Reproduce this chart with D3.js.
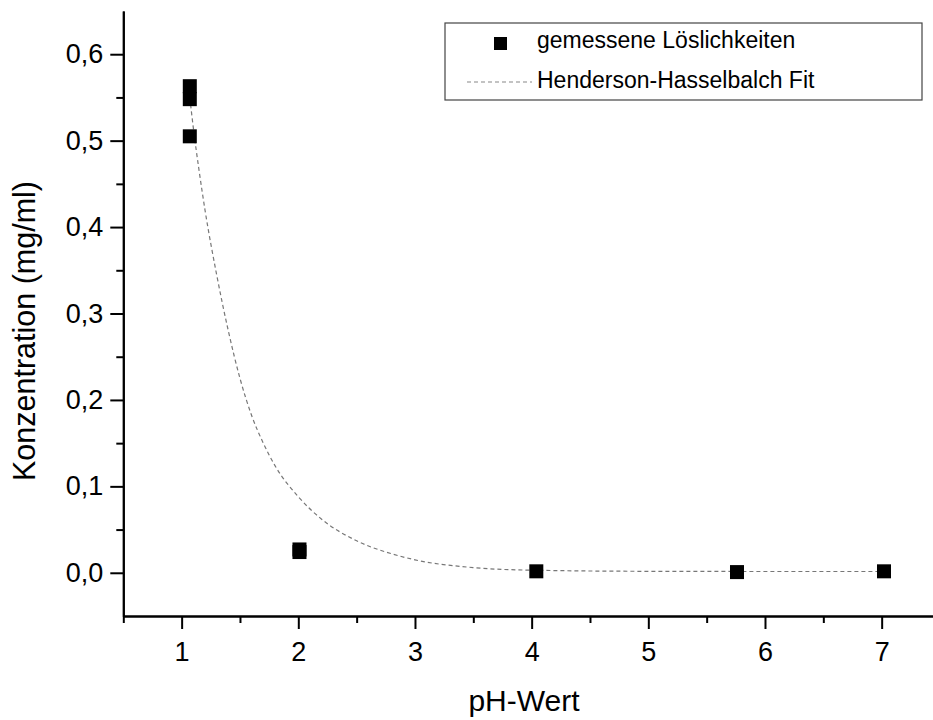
<!DOCTYPE html>
<html lang="en">
<head>
    <meta charset="UTF-8">
    <title>Löslichkeit vs. pH</title>
    <script src="https://d3js.org/d3.v7.min.js"></script>
    <style>
        body { margin: 0; background: #fff; }
        svg { display: block; font-family: "Liberation Sans", Arial, sans-serif; }
    </style>
</head>
<body>
    <div id="chart"></div>
    <script>
        // Measured solubility points
        const phValues = [1.07, 1.07, 1.07, 2.01, 2.01, 4.04, 5.76, 7.02];
        const concValues = [0.563, 0.548, 0.505, 0.027, 0.024, 0.0017, 0.0008, 0.0017];

        // Fit curve
        const fitPh = [1.07, 1.1, 1.15, 1.2, 1.3, 1.4, 1.5, 1.6, 1.7, 1.8, 2.0, 2.2, 2.5, 2.8, 3.0, 3.5, 4.0, 5.0, 6.0, 7.0];
        const fitConc = [0.55, 0.515, 0.465, 0.42, 0.345, 0.28, 0.225, 0.182, 0.15, 0.124, 0.088, 0.062, 0.037, 0.022, 0.015, 0.006, 0.003, 0.0017, 0.0015, 0.0015];

        const xMajor = [1, 2, 3, 4, 5, 6, 7];
        const xMinor = [0.5, 1.5, 2.5, 3.5, 4.5, 5.5, 6.5];
        const yMajor = [0, 0.1, 0.2, 0.3, 0.4, 0.5, 0.6];
        const yMinor = [0.05, 0.15, 0.25, 0.35, 0.45, 0.55];

        const legendLabels = ["gemessene Löslichkeiten", "Henderson-Hasselbalch Fit"];

        const width = 933;
        const height = 720;

        const svg = d3.select("#chart")
            .append("svg")
            .attr("width", width)
            .attr("height", height);

        const x = d3.scaleLinear().domain([0.5, 7.5]).range([123.3, 940]);
        const y = d3.scaleLinear().domain([-0.05, 0.65]).range([616, 11]);

        const fmt = d => d3.format(".1f")(d).replace(".", ",");

        // x axis
        svg.append("g")
            .attr("transform", `translate(0,${y(-0.05)})`)
            .call(d3.axisBottom(x).tickValues(xMajor).tickFormat(d3.format("d"))
                .tickSize(13).tickPadding(13).tickSizeOuter(0));
        svg.append("g")
            .attr("transform", `translate(0,${y(-0.05)})`)
            .call(d3.axisBottom(x).tickValues(xMinor).tickFormat("").tickSize(7).tickSizeOuter(0));

        // y axis
        svg.append("g")
            .attr("transform", `translate(${x(0.5)},0)`)
            .call(d3.axisLeft(y).tickValues(yMajor).tickFormat(fmt)
                .tickSize(13).tickPadding(7).tickSizeOuter(0));
        svg.append("g")
            .attr("transform", `translate(${x(0.5)},0)`)
            .call(d3.axisLeft(y).tickValues(yMinor).tickFormat("").tickSize(7).tickSizeOuter(0));

        svg.selectAll(".domain, .tick line")
            .attr("stroke", "#000")
            .attr("stroke-width", 2);
        svg.selectAll(".tick text")
            .attr("font-size", 27)
            .attr("font-family", "Liberation Sans, Arial, sans-serif")
            .attr("fill", "#000");

        // axis titles
        svg.append("text")
            .attr("transform", "translate(35,331) rotate(-90)")
            .attr("text-anchor", "middle")
            .attr("font-size", 30.5)
            .text("Konzentration (mg/ml)");

        svg.append("text")
            .attr("x", 524)
            .attr("y", 711)
            .attr("text-anchor", "middle")
            .attr("font-size", 30)
            .text("pH-Wert");

        // fit curve
        const fitLine = d3.line()
            .x((d, i) => x(fitPh[i]))
            .y(d => y(d))
            .curve(d3.curveMonotoneX);

        svg.append("path")
            .datum(fitConc)
            .attr("d", fitLine)
            .attr("fill", "none")
            .attr("stroke", "#777")
            .attr("stroke-width", 1.2)
            .attr("stroke-dasharray", "4,3");

        // data points
        const size = 14;
        svg.selectAll(".pt")
            .data(phValues)
            .enter()
            .append("rect")
            .attr("class", "pt")
            .attr("x", d => x(d) - size / 2)
            .attr("y", (d, i) => y(concValues[i]) - size / 2)
            .attr("width", size)
            .attr("height", size)
            .attr("fill", "#000");

        // legend
        const legend = svg.append("g");
        legend.append("rect")
            .attr("x", 445).attr("y", 23)
            .attr("width", 477).attr("height", 77)
            .attr("fill", "#fff")
            .attr("stroke", "#444")
            .attr("stroke-width", 1.2);
        legend.append("rect")
            .attr("x", 494).attr("y", 37)
            .attr("width", 13).attr("height", 13)
            .attr("fill", "#000");
        legend.append("line")
            .attr("x1", 467).attr("x2", 532)
            .attr("y1", 82).attr("y2", 82)
            .attr("stroke", "#888")
            .attr("stroke-width", 1.2)
            .attr("stroke-dasharray", "4,3");
        legend.selectAll(".lt")
            .data(legendLabels)
            .enter()
            .append("text")
            .attr("x", 537)
            .attr("y", (d, i) => [47.5, 88][i])
            .attr("font-size", 23)
            .text(d => d);
    </script>
</body>
</html>
